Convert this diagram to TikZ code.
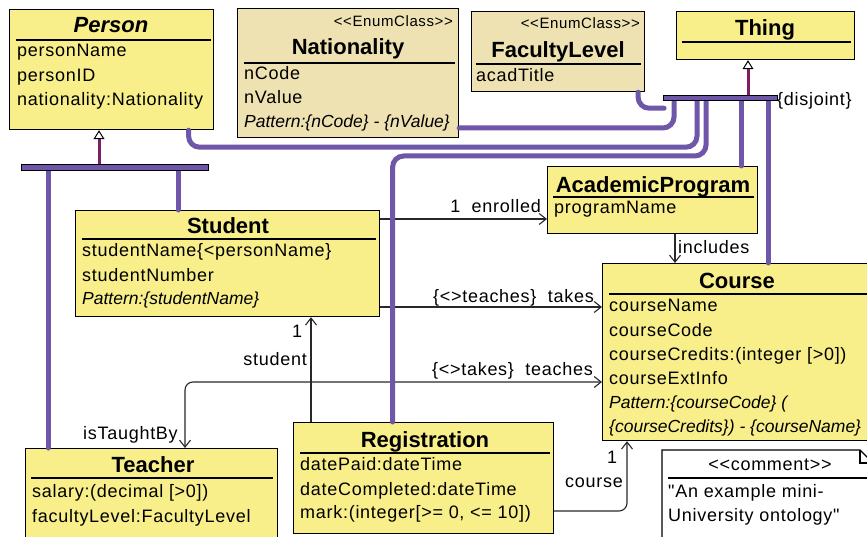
\documentclass[tikz,border=0pt]{standalone}
\usepackage{fontspec}
\setmainfont{Liberation Sans}
\newfontfamily\attrfont{Liberation Sans}[LetterSpace=4]
\usetikzlibrary{arrows.meta}
\definecolor{umlyellow}{RGB}{248,238,138}
\definecolor{umltan}{RGB}{238,225,178}
\definecolor{genpurple}{RGB}{110,86,168}
\definecolor{stemmag}{RGB}{128,30,100}
\definecolor{linegray}{RGB}{40,40,40}
\begin{document}
\begin{tikzpicture}[x=1pt,y=-1pt,
  box/.style={draw=black, line width=1.2pt, fill=umlyellow, inner sep=0pt, anchor=north west},
  tanbox/.style={box, fill=umltan},
  sep/.style={draw=black, line width=1.2pt},
  ttl/.style={inner sep=0pt, anchor=base, font=\fontsize{22}{24}\selectfont\bfseries},
  att/.style={inner sep=0pt, anchor=base west, font=\attrfont\fontsize{18}{20}\selectfont},
  pat/.style={inner sep=0pt, anchor=base west, font=\fontsize{17.5}{20}\selectfont\itshape},
  lbl/.style={inner sep=0pt, font=\attrfont\fontsize{18}{20}\selectfont},
  enum/.style={inner sep=0pt, anchor=base east, font=\attrfont\fontsize{15}{17}\selectfont},
  assoc/.style={draw=linegray, line width=1.1pt, rounded corners=8pt},
  barb/.tip={Straight Barb[length=7pt,width=11pt,line width=1.1pt]},
  pl/.style={draw=genpurple, line width=5pt, rounded corners=11pt, line cap=round},
  genbar/.style={draw=black, line width=1pt, fill=genpurple, inner sep=0pt},
  stem/.style={draw=stemmag, line width=3pt, -{Triangle[length=9pt,width=11pt,line width=1pt,color=black,fill=white]}}
]
\useasboundingbox (0,0) rectangle (867,537);
\clip (0,0) rectangle (867,537);

% ---------- boxes ----------
\node[box, minimum width=204pt, minimum height=120pt] (person) at (9,9) {};
\node[tanbox, minimum width=221pt, minimum height=129pt] (nat) at (237,8) {};
\node[tanbox, minimum width=173pt, minimum height=80pt] (fac) at (471,11) {};
\node[box, minimum width=178pt, minimum height=48pt] (thing) at (676,11) {};
\node[box, minimum width=304pt, minimum height=106pt] (stu) at (75,210) {};
\node[box, minimum width=210pt, minimum height=67pt] (ap) at (547,166) {};
\node[box, minimum width=273pt, minimum height=177pt] (course) at (602,263) {};
\node[box, minimum width=252pt, minimum height=97pt] (teacher) at (25,448) {};
\node[box, minimum width=260pt, minimum height=111pt] (reg) at (293,422) {};

% comment note
\draw[line width=1.1pt, fill=white] (662,548) -- (662,450) -- (860,450) -- (874,464) -- (874,548);
\draw[line width=1.1pt] (860,450) -- (860,463) -- (874,463);

% ---------- separators ----------
\draw[sep] (16,40) -- (211,40);
\draw[sep] (244,63) -- (455,63);
\draw[sep] (476,64) -- (641,64);
\draw[sep] (682,42) -- (851,42);
\draw[sep] (82,239) -- (376,239);
\draw[sep] (553,197) -- (754,197);
\draw[sep] (609,294) -- (870,294);
\draw[sep] (31,478) -- (273,478);
\draw[sep] (300,453) -- (550,453);
\draw[line width=1.1pt] (668,478) -- (870,478);

% ---------- texts ----------
\node[ttl, font=\fontsize{22}{24}\selectfont\bfseries\itshape] (personT) at (111,33) {Person};
\node[att] (pa1) at (17,57) {personName};
\node[att] (pa2) at (17,82) {personID};
\node[att] (pa3) at (17,106) {nationality:Nationality};

\node[enum] (natE) at (453,27) {<{}<EnumClass>{}>};
\node[ttl] (natT) at (348,55) {Nationality};
\node[att] (na1) at (244,80) {nCode};
\node[att] (na2) at (244,104) {nValue};
\node[pat] (na3) at (244,128) {Pattern:\{nCode\} - \{nValue\}};

\node[enum] (facE) at (640,29) {<{}<EnumClass>{}>};
\node[ttl] (facT) at (558,58) {FacultyLevel};
\node[att] (fa1) at (476,82) {acadTitle};

\node[ttl] (thingT) at (765,36) {Thing};

\node[ttl] (stuT) at (228,234) {Student};
\node[att] (sa1) at (82,257) {studentName\{<personName\}};
\node[att] (sa2) at (82,281) {studentNumber};
\node[pat] (sa3) at (82,305) {Pattern:\{studentName\}};

\node[ttl] (apT) at (653,193) {AcademicProgram};
\node[att] (aa1) at (554,214) {programName};

\node[ttl] (courseT) at (737,288) {Course};
\node[att] (ca1) at (609,312) {courseName};
\node[att] (ca2) at (609,336) {courseCode};
\node[att] (ca3) at (609,360) {courseCredits:(integer [>0])};
\node[att] (ca4) at (609,384) {courseExtInfo};
\node[pat] (ca5) at (609,408) {Pattern:\{courseCode\} (};
\node[pat] (ca6) at (609,432) {\{courseCredits\}) - \{courseName\}};

\node[ttl] (teacherT) at (153,472) {Teacher};
\node[att] (ta1) at (32,497) {salary:(decimal [>0])};
\node[att] (ta2) at (32,522) {facultyLevel:FacultyLevel};

\node[ttl] (regT) at (425,447) {Registration};
\node[att] (ra1) at (300,470) {datePaid:dateTime};
\node[att] (ra2) at (300,495) {dateCompleted:dateTime};
\node[att] (ra3) at (300,518) {mark:(integer[>= 0, <= 10])};

\node[lbl, anchor=base] (cmT) at (770,470) {<{}<comment>{}>};
\node[att] (cm1) at (668,497) {"An example mini-};
\node[att] (cm2) at (668,521) {University ontology"};

% ---------- associations ----------
\draw[assoc, -barb] ([yshift=-9pt]stu.north east) coordinate (e1) -- (e1 -| ap.west);
\node[lbl, anchor=base east] (l1) at (541,213) {1~~enrolled};

\draw[assoc, -barb] ([yshift=-97pt]stu.north east) coordinate (e2) -- (e2 -| course.west);
\node[lbl, anchor=base east] (l2) at (594,302) {\{<>teaches\}~~takes};

\draw[assoc, barb-barb] ([yshift=-119pt]course.north west) coordinate (e3) -| ([xshift=160pt]teacher.north west);
\node[lbl, anchor=base east] (l3) at (593,375) {\{<>takes\}~~teaches};
\node[lbl, anchor=base west] (l4) at (83,439) {isTaughtBy};

\draw[assoc, -barb] ([xshift=18pt]reg.north west) coordinate (e4) -- (e4 |- stu.south);
\node[lbl, anchor=base west] (l5) at (292,337) {1};
\node[lbl, anchor=base east] (l6) at (307,365) {student};

\draw[assoc, -barb] ([yshift=-89pt]reg.north east) coordinate (e5) -| ([xshift=25pt]course.south west);
\node[lbl, anchor=base west] (l7) at (607,463) {1};
\node[lbl, anchor=base east] (l8) at (623,487) {course};

\draw[assoc, -barb] ([xshift=128pt]ap.south west) coordinate (e6) -- (e6 |- course.north);
\node[lbl, anchor=base west] (l9) at (678,254) {includes};

% ---------- generalisations ----------
\coordinate (tb) at (720,98.5);
\coordinate (pb) at (114.5,168);

\draw[pl] ([yshift=-120pt]nat.north east) -| ([xshift=-46pt]tb);
\draw[pl] ([xshift=77pt]person.south) -- ++(0,17) -| ([xshift=-23pt]tb);
\draw[pl] ([xshift=-31pt]reg.north) -- ++(0,-266) -| ([xshift=-14pt]tb);
\draw[pl] ([xshift=80pt]fac.south) -- ++(0,16) -- ++(26,0);
\draw[pl] ([xshift=21pt]tb) coordinate (g1) -- (g1 |- ap.north);
\draw[pl] ([xshift=48pt]tb) coordinate (g2) -- (g2 |- course.north);

\draw[pl] ([xshift=-66.5pt]pb) coordinate (g3) -- (g3 |- teacher.north);
\draw[pl] ([xshift=63.5pt]pb) coordinate (g4) -- (g4 |- stu.north);

\node[genbar, minimum width=114pt, minimum height=5pt] (tbar) at (tb) {};
\node[genbar, minimum width=187pt, minimum height=6pt] (pbar) at (pb) {};

\draw[stem] ([xshift=28pt]tbar.north) coordinate (s1) -- (s1 |- thing.south);
\draw[stem] ([xshift=-15.5pt]pbar.north) coordinate (s2) -- (s2 |- person.south);

\node[lbl, anchor=base west] (disj) at (777,106) {\{disjoint\}};
\end{tikzpicture}
\end{document}
